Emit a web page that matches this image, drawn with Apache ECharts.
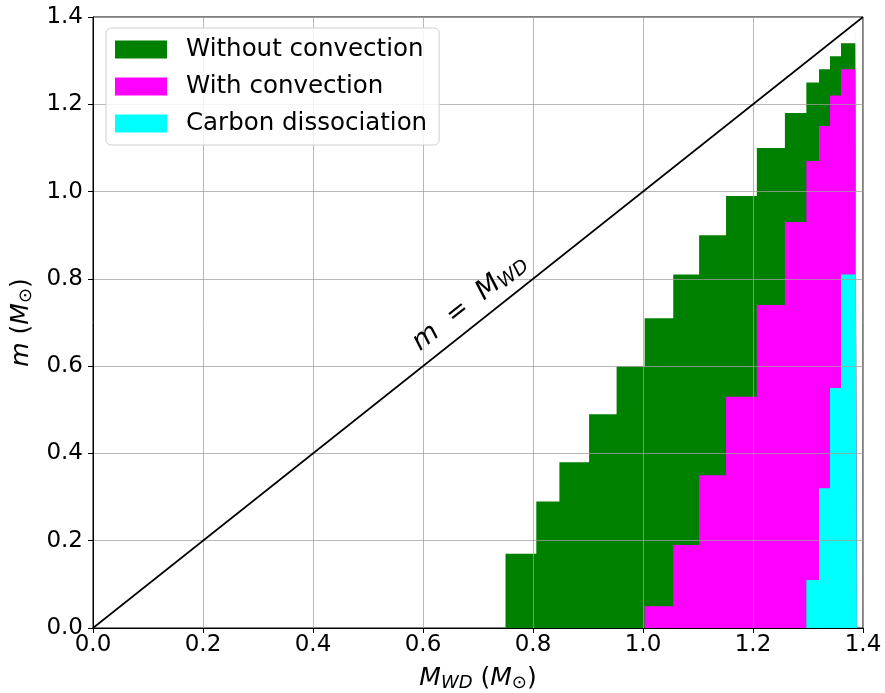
<!DOCTYPE html>
<html><head><meta charset="utf-8">
<script src="https://cdn.jsdelivr.net/npm/echarts@6/dist/echarts.min.js"></script>
<style>html,body{margin:0;padding:0;background:#fff}#c{width:885px;height:693px}</style>
</head><body><div id="c"></div>
<script>
const tickLabels = ['0.0','0.2','0.4','0.6','0.8','1.0','1.2','1.4'];
// Without convection: step edges and heights
const noConvEdges = [0.75,0.806,0.848,0.902,0.952,1.003,1.055,1.102,1.151,1.207,1.258,1.297,1.32,1.34,1.36,1.386,1.389];
const noConvM     = [0.17,0.29,0.38,0.49,0.60,0.71,0.81,0.90,0.99,1.10,1.18,1.25,1.28,1.31,1.34,1.385];
// With convection
const convEdges = [1.003,1.055,1.102,1.151,1.207,1.258,1.297,1.32,1.34,1.36,1.386,1.389];
const convM     = [0.05,0.19,0.35,0.53,0.74,0.93,1.07,1.15,1.22,1.28,1.36];
// Carbon dissociation
const carbEdges = [1.297,1.32,1.34,1.36,1.386,1.389];
const carbM     = [0.11,0.32,0.55,0.81,1.18];
const diag = [[0,0],[1.4,1.4]];
const diagLabelPos = [0.685,0.745];

function stepData(edges, vals){
  const d = vals.map((v,i)=>[edges[i], v]);
  d.push([edges[edges.length-1], 0]);
  return d;
}
const FONT = 'DejaVu Sans';
const chart = echarts.init(document.getElementById('c'));
function axis(margin){
  return {
    type:'value', min:0, max:1.4, interval:0.2, z:5,
    axisLine:{show:true, onZero:false, lineStyle:{color:'#000', width:1}},
    axisTick:{show:true, length:5, lineStyle:{color:'#000'}},
    axisLabel:{fontSize:23, color:'#000', fontFamily:FONT, margin:margin,
      formatter:(v,i)=>tickLabels[i]},
    splitLine:{show:true, lineStyle:{color:'rgba(160,160,160,0.75)', width:1}}
  };
}
const xA = axis(6);
xA.name = '{i|M}{s|WD} ({i|M}{s|⊙})';
xA.nameLocation = 'middle'; xA.nameGap = 36;
xA.nameTextStyle = {fontSize:25, color:'#000', fontFamily:FONT, rich:{
  i:{fontSize:25, fontStyle:'italic', fontFamily:FONT, color:'#000'},
  s:{fontSize:18, fontStyle:'italic', fontFamily:FONT, color:'#000', verticalAlign:'bottom', padding:[10,0,0,0]}}};
const yA = axis(10);
yA.name = '{i|m} ({i|M}{s|⊙})';
yA.nameLocation = 'middle'; yA.nameGap = 52;
yA.nameTextStyle = {fontSize:25, color:'#000', fontFamily:FONT, rich:{
  i:{fontSize:25, fontStyle:'italic', fontFamily:FONT, color:'#000'},
  s:{fontSize:18, fontFamily:FONT, color:'#000', verticalAlign:'bottom', padding:[10,0,0,0]}}};

function area(name, color, data){
  return {name, type:'line', step:'end', data, showSymbol:false, symbol:'none',
    color, itemStyle:{color}, lineStyle:{width:0, opacity:0},
    areaStyle:{color, opacity:1}, z:2, animation:false};
}
chart.setOption({
  animation:false,
  grid:{left:93, right:22, top:17, bottom:65, outerBoundsMode:'none', containLabel:false,
    show:true, borderColor:'#000', borderWidth:1, backgroundColor:'transparent'},
  xAxis:xA, yAxis:yA,
  legend:{
    data:['Without convection','With convection','Carbon dissociation'],
    orient:'vertical', left:106, top:28, icon:'rect', itemWidth:52, itemHeight:18, itemGap:12,
    padding:[9,12,9,9], backgroundColor:'rgba(255,255,255,0.85)', borderColor:'#d0d0d0', borderWidth:1, borderRadius:5,
    textStyle:{fontSize:24.5, lineHeight:25, color:'#000', fontFamily:FONT, padding:[0,0,0,14]}, z:20,
    selectedMode:false
  },
  series:[
    area('Without convection','#008000', stepData(noConvEdges,noConvM)),
    area('With convection','#ff00ff', stepData(convEdges,convM)),
    area('Carbon dissociation','#00ffff', stepData(carbEdges,carbM)),
    {name:'diag', type:'line', data:diag, showSymbol:false, symbol:'none',
      lineStyle:{color:'#000', width:1.6}, z:10, animation:false},
    {name:'diagLabel', type:'scatter', data:[diagLabelPos], symbolSize:0, z:11,
      itemStyle:{opacity:1},
      label:{show:true, position:'inside', rotate:38.4, color:'#000', fontFamily:FONT,
        formatter:'{i|m}{t|  =  }{i|M}{s|WD}',
        rich:{i:{fontSize:27, fontStyle:'italic', fontFamily:FONT, color:'#000'},
              t:{fontSize:26, fontFamily:FONT, color:'#000'},
              s:{fontSize:19, fontStyle:'italic', fontFamily:FONT, color:'#000', verticalAlign:'bottom', padding:[10,0,0,0]}},
        fontSize:26}}
  ]
});
</script></body></html>
